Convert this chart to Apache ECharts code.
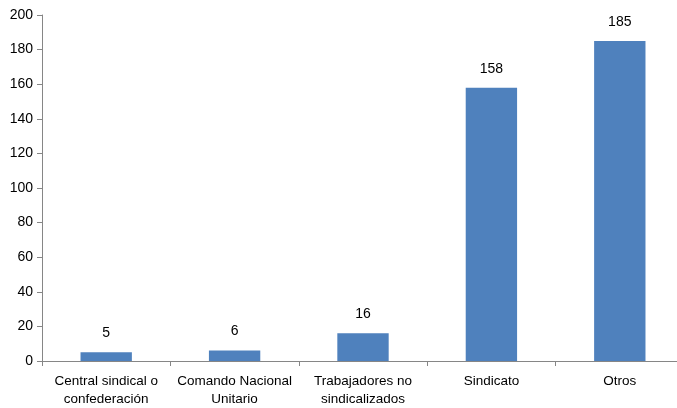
<!DOCTYPE html>
<html><head><meta charset="utf-8">
<script src="https://cdn.jsdelivr.net/npm/echarts@6/dist/echarts.min.js"></script>
<style>html,body{margin:0;padding:0;background:#fff;overflow:hidden}#c{width:690px;height:408px}</style>
</head><body><div id="c"></div>
<script>
const categories = ["Central sindical o\nconfederación", "Comando Nacional\nUnitario", "Trabajadores no\nsindicalizados", "Sindicato", "Otros"];
const values = [5, 6, 16, 158, 185];
const yTicks = {min: 0, max: 200, interval: 20};
const FONT = '"Liberation Sans", Arial, sans-serif';
const chart = echarts.init(document.getElementById('c'), null, {renderer: 'canvas'});
chart.setOption({
  animation: false,
  grid: {left: 42, top: 15, right: 6, bottom: 47, containLabel: false},
  xAxis: {
    type: 'category', data: categories,
    axisLine: {lineStyle: {color: '#868686', width: 1}},
    axisTick: {show: true, inside: false, length: 5, alignWithLabel: false, lineStyle: {color: '#868686'}},
    axisLabel: {color: '#000', fontFamily: FONT, fontSize: 13.5, margin: 11, lineHeight: 18, interval: 0}
  },
  yAxis: {
    type: 'value', min: yTicks.min, max: yTicks.max, interval: yTicks.interval,
    axisLine: {show: true, lineStyle: {color: '#868686', width: 1}},
    axisTick: {show: true, length: 5, lineStyle: {color: '#868686'}},
    splitLine: {show: false},
    axisLabel: {color: '#000', fontFamily: FONT, fontSize: 14, margin: 9}
  },
  series: [{
    type: 'bar', data: values, barWidth: '40%',
    itemStyle: {color: '#4F81BD'},
    label: {show: true, position: 'top', distance: 12, color: '#000', fontFamily: FONT, fontSize: 14}
  }]
});
</script></body></html>
